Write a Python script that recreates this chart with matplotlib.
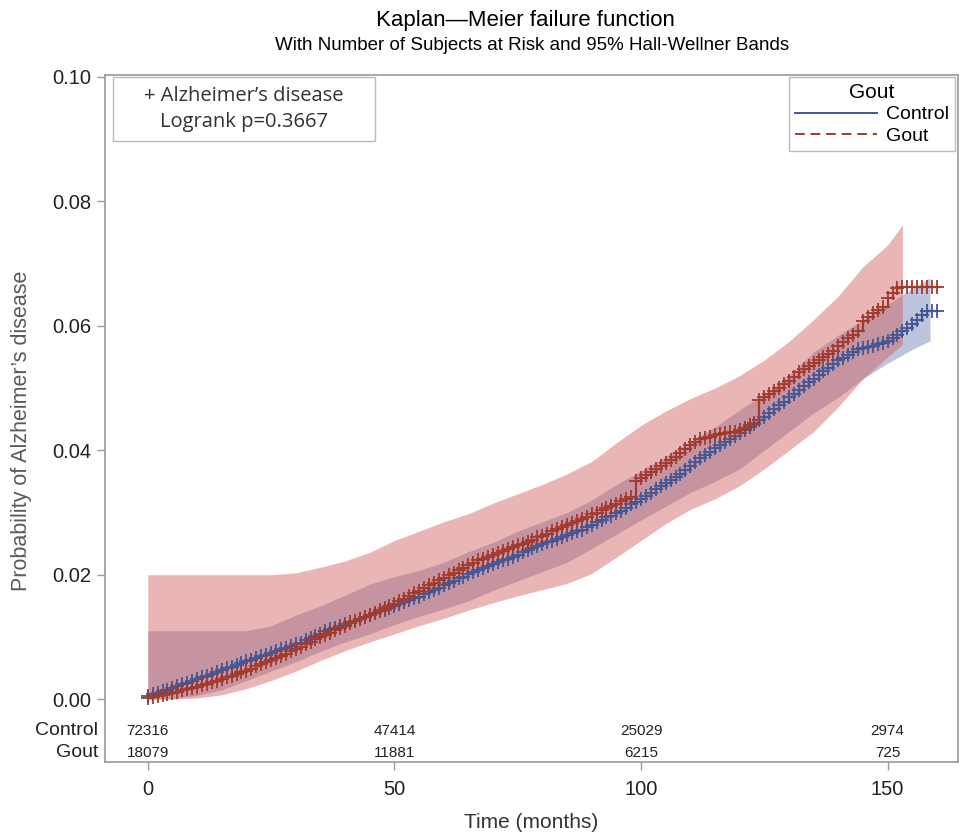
import numpy as np
import matplotlib
matplotlib.use('Agg')
import matplotlib.pyplot as plt
from matplotlib import font_manager
from matplotlib.lines import Line2D
from matplotlib.patches import Rectangle

# font: narrow sans like SAS output, if available
names = {f.name for f in font_manager.fontManager.ttflist}
narrow = 'Liberation Sans Narrow' if 'Liberation Sans Narrow' in names else 'Liberation Sans'
plt.rcParams['font.family'] = [narrow, 'DejaVu Sans']

# ---- data ----
months = list(range(0, 161))

control_fail = [
    0.0005, 0.0008, 0.0010, 0.0013, 0.0015, 0.0018, 0.0021, 0.0024, 0.0026, 0.0029, 0.0032,
    0.0035, 0.0038, 0.0041, 0.0044, 0.0047, 0.0050, 0.0052, 0.0055, 0.0058, 0.0061,
    0.0063, 0.0066, 0.0069, 0.0071, 0.0074, 0.0077, 0.0080, 0.0082, 0.0085, 0.0088,
    0.0091, 0.0095, 0.0098, 0.0102, 0.0105, 0.0109, 0.0112, 0.0115, 0.0118, 0.0121,
    0.0124, 0.0126, 0.0129, 0.0132, 0.0135, 0.0138, 0.0141, 0.0144, 0.0147, 0.0150,
    0.0153, 0.0156, 0.0159, 0.0162, 0.0165, 0.0169, 0.0172, 0.0176, 0.0179, 0.0183,
    0.0186, 0.0190, 0.0194, 0.0197, 0.0201, 0.0204, 0.0208, 0.0211, 0.0214, 0.0217,
    0.0220, 0.0223, 0.0226, 0.0229, 0.0232, 0.0236, 0.0240, 0.0243, 0.0246, 0.0249,
    0.0252, 0.0255, 0.0258, 0.0261, 0.0264, 0.0267, 0.0270, 0.0272, 0.0276, 0.0280,
    0.0284, 0.0288, 0.0292, 0.0295, 0.0299, 0.0303, 0.0308, 0.0313, 0.0317, 0.0322,
    0.0327, 0.0332, 0.0337, 0.0342, 0.0347, 0.0352, 0.0357, 0.0362, 0.0368, 0.0375,
    0.0381, 0.0388, 0.0393, 0.0398, 0.0403, 0.0408, 0.0413, 0.0418, 0.0423, 0.0428,
    0.0433, 0.0438, 0.0443, 0.0448, 0.0454, 0.0460, 0.0466, 0.0472, 0.0478, 0.0485,
    0.0491, 0.0497, 0.0503, 0.0509, 0.0515, 0.0521, 0.0527, 0.0533, 0.0539, 0.0545,
    0.0549, 0.0553, 0.0558, 0.0562, 0.0564, 0.0566, 0.0568, 0.0570, 0.0573, 0.0576,
    0.0580, 0.0585, 0.0591, 0.0597, 0.0603, 0.0610, 0.0617, 0.0624, 0.0624, 0.0624,
]

gout_fail = [
    0.0002, 0.0003, 0.0005, 0.0006, 0.0008, 0.0010, 0.0012, 0.0014, 0.0016, 0.0018, 0.0020,
    0.0023, 0.0025, 0.0028, 0.0030, 0.0033, 0.0035, 0.0038, 0.0040, 0.0043, 0.0046,
    0.0049, 0.0053, 0.0056, 0.0059, 0.0063, 0.0066, 0.0070, 0.0073, 0.0077, 0.0080,
    0.0084, 0.0088, 0.0092, 0.0096, 0.0100, 0.0103, 0.0107, 0.0111, 0.0114, 0.0118,
    0.0122, 0.0125, 0.0129, 0.0132, 0.0136, 0.0139, 0.0143, 0.0146, 0.0150, 0.0153,
    0.0157, 0.0161, 0.0166, 0.0170, 0.0174, 0.0179, 0.0183, 0.0187, 0.0191, 0.0195,
    0.0199, 0.0203, 0.0207, 0.0211, 0.0215, 0.0219, 0.0223, 0.0226, 0.0229, 0.0232,
    0.0235, 0.0238, 0.0241, 0.0244, 0.0247, 0.0250, 0.0253, 0.0256, 0.0260, 0.0263,
    0.0266, 0.0270, 0.0273, 0.0277, 0.0280, 0.0283, 0.0287, 0.0290, 0.0293, 0.0297,
    0.0300, 0.0304, 0.0307, 0.0311, 0.0314, 0.0318, 0.0321, 0.0325, 0.0350, 0.0355,
    0.0360, 0.0365, 0.0370, 0.0375, 0.0380, 0.0385, 0.0390, 0.0395, 0.0402, 0.0408,
    0.0413, 0.0418, 0.0420, 0.0422, 0.0424, 0.0426, 0.0428, 0.0429, 0.0430, 0.0432,
    0.0436, 0.0440, 0.0444, 0.0480, 0.0485, 0.0490, 0.0495, 0.0500, 0.0506, 0.0512,
    0.0518, 0.0525, 0.0530, 0.0535, 0.0540, 0.0545, 0.0550, 0.0555, 0.0560, 0.0567,
    0.0574, 0.0580, 0.0586, 0.0592, 0.0608, 0.0614, 0.0620, 0.0625, 0.0630, 0.0645,
    0.0652, 0.0660, 0.0663, 0.0663, 0.0663, 0.0663, 0.0663, 0.0663, 0.0663, 0.0663,
]

# Hall-Wellner bands
control_band_t = [0, 5, 10, 15, 20, 25, 30, 35, 40, 45, 50, 55, 60, 65, 70, 75, 80,
                  85, 90, 95, 100, 105, 110, 115, 120, 125, 130, 135, 140, 145, 150, 155, 158.6]
control_upper = [0.011, 0.011, 0.011, 0.011, 0.011, 0.0118, 0.0135, 0.015, 0.0167, 0.0185,
                 0.0197, 0.0207, 0.022, 0.0237, 0.0252, 0.027, 0.0285, 0.0300, 0.0320, 0.0345,
                 0.0367, 0.039, 0.0415, 0.0437, 0.0465, 0.049, 0.052, 0.0558, 0.0585, 0.061,
                 0.0635, 0.066, 0.0677]
control_lower = [0.0, 0.0001, 0.0006, 0.0015, 0.003, 0.0045, 0.006, 0.0077, 0.0092, 0.0105,
                 0.012, 0.0133, 0.0145, 0.0158, 0.0175, 0.019, 0.0205, 0.0220, 0.0242, 0.0265,
                 0.0288, 0.031, 0.0332, 0.0350, 0.037, 0.040, 0.043, 0.046, 0.0485, 0.0515,
                 0.054, 0.0562, 0.0576]

gout_band_t = [0, 5, 10, 15, 20, 25, 30, 35, 40, 45, 50, 55, 60, 65, 70, 75, 80,
               85, 90, 95, 100, 105, 110, 115, 120, 125, 130, 135, 140, 145, 150, 153]
gout_upper = [0.020, 0.020, 0.020, 0.020, 0.020, 0.020, 0.0203, 0.0212, 0.0222, 0.0236,
              0.0255, 0.027, 0.0285, 0.0298, 0.0315, 0.033, 0.0345, 0.0362, 0.0382, 0.0412,
              0.0440, 0.0463, 0.0483, 0.0500, 0.0520, 0.0545, 0.0575, 0.061, 0.0648, 0.0695,
              0.073, 0.0762]
gout_lower = [0.0, 0.0, 0.0002, 0.0007, 0.0017, 0.003, 0.0045, 0.0062, 0.0078, 0.0092,
              0.0105, 0.0118, 0.013, 0.0143, 0.0155, 0.0166, 0.0176, 0.0186, 0.0202, 0.0228,
              0.0255, 0.0282, 0.0305, 0.0322, 0.0343, 0.037, 0.040, 0.043, 0.047, 0.0515,
              0.055, 0.057]

risk_times = [0, 50, 100, 150]
risk_control = [72316, 47414, 25029, 2974]
risk_gout = [18079, 11881, 6215, 725]

blue = '#445694'
red = '#A23A2E'
grey = '#9a9a9a'

fig = plt.figure(figsize=(9.62, 8.34), dpi=100)
ax = fig.add_axes([0.109, 0.0863, 0.887, 0.8237])

# bands (blue first, red on top gives the mauve overlap)
ax.fill_between(control_band_t, control_lower, control_upper, color='#6F7EB3', alpha=0.45, lw=0)
ax.fill_between(gout_band_t, gout_lower, gout_upper, color='#D05B5B', alpha=0.45, lw=0)

# step curves with censor marks
ax.step(months, control_fail, where='post', color=blue, lw=1.6)
ax.plot(months, control_fail, ls='none', marker='+', ms=9.5, mew=1.3, color=blue)
ax.step(months, gout_fail, where='post', color=red, lw=1.6)
ax.plot(months, gout_fail, ls='none', marker='+', ms=9.5, mew=1.3, color=red)

ax.set_xlim(-8.7, 164.3)
ax.set_ylim(-0.0101, 0.1003)
ax.set_xticks([0, 50, 100, 150])
ax.set_yticks([0.0, 0.02, 0.04, 0.06, 0.08, 0.10])
ax.set_yticklabels(['0.00', '0.02', '0.04', '0.06', '0.08', '0.10'])
ax.tick_params(axis='both', direction='out', length=6, width=1, color=grey,
               labelsize=14.5, labelcolor='#222222')
ax.tick_params(axis='x', pad=7)
for s in ax.spines.values():
    s.set_color(grey)
    s.set_linewidth(1.2)

ax.set_xlabel('Time (months)', fontsize=15, color='#333333', labelpad=10)
ax.set_ylabel('Probability of Alzheimer\u2019s disease', fontsize=15.5, color='#5a5a5a')
ax.yaxis.set_label_coords(-0.085, 0.482)

# number at risk table inside the plot
for t, c, g in zip(risk_times, risk_control, risk_gout):
    ax.text(t, -0.0051, str(c), ha='center', va='center', fontsize=11, color='#222222')
    ax.text(t, -0.0086, str(g), ha='center', va='center', fontsize=11, color='#222222')
trans = ax.get_yaxis_transform()
ax.text(-0.008, -0.0051, 'Control', transform=trans, ha='right', va='center', fontsize=14, color='#222222')
ax.text(-0.008, -0.0086, 'Gout', transform=trans, ha='right', va='center', fontsize=14, color='#222222')

# titles
fig.text(0.546, 0.975, 'Kaplan\u2014Meier failure function', ha='center', va='center', fontsize=16)
fig.text(0.553, 0.946, 'With Number of Subjects at Risk and 95% Hall-Wellner Bands',
         ha='center', va='center', fontsize=13.5)

# annotation box
ax.add_patch(Rectangle((0.0094, 0.904), 0.307, 0.093, transform=ax.transAxes,
                       fc='white', ec='#bbbbbb', lw=1, zorder=5))
ax.text(0.163, 0.9505, '+ Alzheimer\u2019s disease\nLogrank p=0.3667', transform=ax.transAxes,
        ha='center', va='center', fontsize=14.5, linespacing=1.45, color='#333333',
        family=['Open Sans', 'DejaVu Sans'], zorder=6)

# legend
handles = [Line2D([], [], color=blue, lw=1.4), Line2D([], [], color=red, lw=1.4, ls=(0, (5, 3)))]
leg = ax.legend(handles, ['Control', 'Gout'], title='Gout', loc='upper right',
                bbox_to_anchor=(0.9965, 0.997), borderaxespad=0, fontsize=14, title_fontsize=15,
                fancybox=False, edgecolor='#bbbbbb', framealpha=1, handlelength=4.2,
                handletextpad=0.5, borderpad=0.3, labelspacing=0.2)
leg.get_frame().set_linewidth(1)

fig.savefig('out.png', dpi=100)
